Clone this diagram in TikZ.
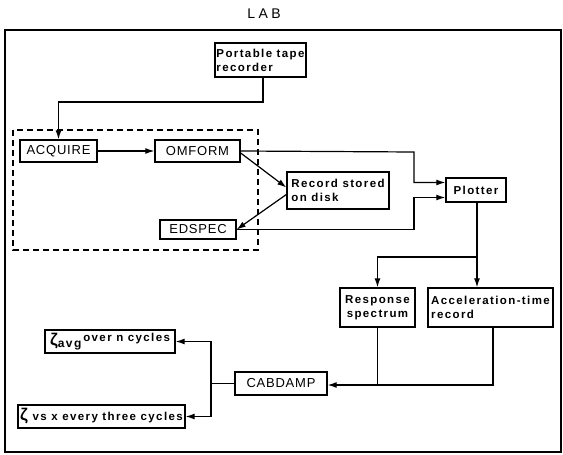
\documentclass[tikz,border=0pt]{standalone}
\usepackage{fontspec}
\setmainfont{Liberation Sans}
\usetikzlibrary{arrows.meta,calc}
\newfontfamily\boxfont[LetterSpace=12]{Liberation Sans Bold}
\newfontfamily\bigfont[LetterSpace=6]{Liberation Sans}
\newfontfamily\titlefont[LetterSpace=25]{Liberation Sans}
\begin{document}
\begin{tikzpicture}[x=1pt,y=-1pt,
  line width=1.2pt,
  blk/.style={draw,line width=1.3pt,inner sep=0pt,align=left},
  small/.style={font=\boxfont\fontsize{11.5}{14}\selectfont},
  large/.style={font=\bigfont\fontsize{13}{15}\selectfont},
  arr/.style={-{Latex[length=9pt,width=6pt]}}]
\useasboundingbox (0,0) rectangle (563,455);
% frame and title
\draw[line width=1.6pt] (5,30) rectangle (561,452);
\node[font=\titlefont\fontsize{14}{15}\selectfont] (lab) at (264,14) {LAB};
% program group
\draw[dashed,line width=1.2pt,dash pattern=on 6pt off 4pt] (13,130) rectangle (258,250);
% blocks
\node[blk,small,minimum width=91pt,minimum height=34pt] (tape) at (260.5,60) {Portable tape\\recorder};
\node[blk,large,minimum width=77pt,minimum height=22pt] (acq) at (58.5,151) {ACQUIRE};
\node[blk,large,minimum width=85pt,minimum height=22pt] (omf) at (197.5,151) {OMFORM};
\node[blk,large,minimum width=76pt,minimum height=19pt] (eds) at (198,229.5) {EDSPEC};
\node[blk,small,minimum width=102pt,minimum height=37pt] (rec) at (338,190.5) {Record stored\\on disk};
\node[blk,small,minimum width=60pt,minimum height=24pt] (plot) at (476,190) {Plotter};
\node[blk,small,minimum width=75pt,minimum height=39pt,align=center] (resp) at (377.5,307.5) {Response\\spectrum};
\node[blk,small,minimum width=125pt,minimum height=39pt] (acc) at (490.5,307.5) {Acceleration-time\\record};
\node[blk,large,minimum width=92pt,minimum height=23pt] (cab) at (281,383.5) {CABDAMP};
\node[blk,small,minimum width=130pt,minimum height=23pt,align=center] (zavg) at (110,341.5)
  {{\fontsize{17}{17}\selectfont ζ}\raisebox{-2.5pt}{\fontsize{12}{12}\selectfont avg}\,\raisebox{4pt}{over n cycles}};
\node[blk,small,minimum width=167pt,minimum height=23pt,align=center] (zvs) at (101.5,416.5)
  {{\fontsize{17}{17}\selectfont ζ} vs x every three cycles};
% connectors
\coordinate (t1) at (263,102);
\draw[arr] (tape.south -| t1) -- (t1) -| (acq.north);
\draw[arr] (acq.east) -- (omf.east -| omf.west);
\coordinate (bus) at (414,152);
\draw[arr] (omf.east) -- (bus) |- ($(plot.west)+(0,-7.5)$);
\draw[arr] (eds.east) -| (bus |- eds.east) |- ($(plot.west)+(0,7.5)$);
\draw[arr] ($(omf.east)+(0,2)$) -- ($(rec.west)+(0,-3)$);
\draw[arr] ($(rec.west)+(0,4)$) -- (eds.east);
\coordinate (split) at (477,257);
\draw[arr] (plot.south -| split) -- (split |- acc.north);
\draw[arr] (split) -| (resp.north);
\coordinate (merge) at (493,385);
\draw[arr] (acc.south -| merge) -- (merge) -- (merge -| cab.east);
\draw (resp.south) -- (resp.south |- merge);
\coordinate (fork) at (211,383.5);
\draw (cab.west) -- (fork);
\draw[arr] (fork) |- (zavg.east);
\draw[arr] (fork) |- (zvs.east);
\end{tikzpicture}
\end{document}
